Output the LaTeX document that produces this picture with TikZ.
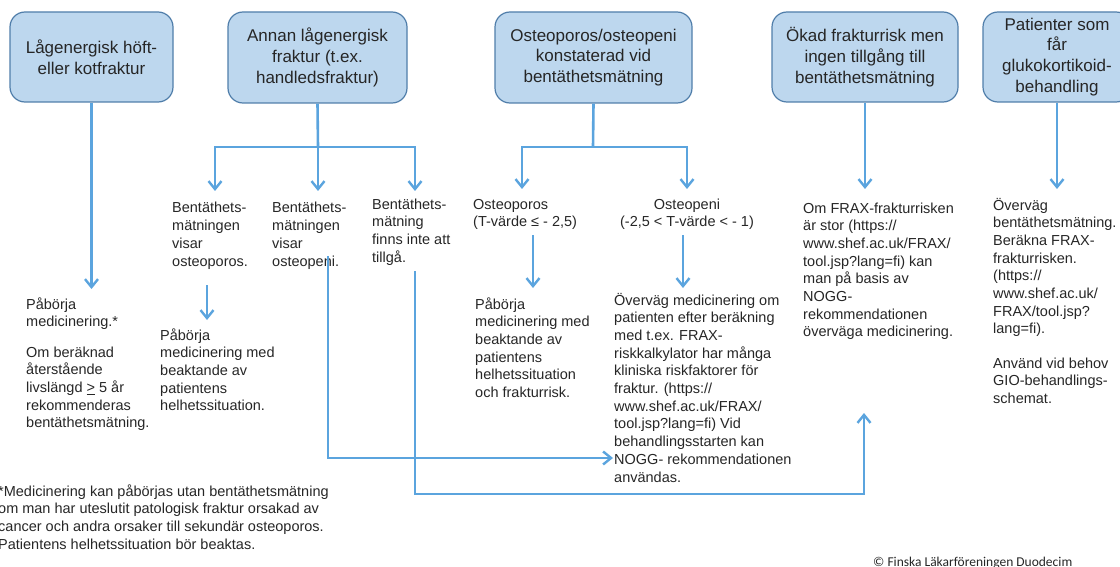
\documentclass[tikz,border=0pt]{standalone}
\usepackage{fontspec}
\setmainfont{Liberation Sans}
\newfontfamily\calib{Carlito}
\usetikzlibrary{arrows.meta}
\definecolor{boxfill}{RGB}{189,215,238}
\definecolor{boxline}{RGB}{80,126,170}
\definecolor{arrowc}{RGB}{91,164,222}
\definecolor{txt}{RGB}{38,38,38}
\begin{document}
\begin{tikzpicture}[x=1pt,y=-1pt,
 topbox/.style={draw=boxline, fill=boxfill, line width=1.2pt, rounded corners=15pt, text=txt, align=center, font=\fontsize{17}{20.8}\selectfont, inner sep=0pt},
 body/.style={text=txt, align=left, font=\fontsize{14.5}{17.7}\selectfont, inner sep=0pt, anchor=base west},
 conn/.style={draw=arrowc, line width=2.6pt},
 arr/.style={conn, -{Straight Barb[length=8pt,width=13pt,line width=2.4pt]}}
]
\useasboundingbox (0,0) rectangle (1120,567);
% top boxes
\node[topbox, minimum width=163pt, minimum height=90pt] (b1) at (91.5,57) {Lågenergisk höft-\\eller kotfraktur};
\node[topbox, minimum width=179pt, minimum height=91pt] (b2) at (317.5,57.5) {Annan lågenergisk\\fraktur (t.ex.\\handledsfraktur)};
\node[topbox, minimum width=197pt, minimum height=91pt] (b3) at (593.5,57.5) {Osteoporos/osteopeni\\konstaterad vid\\bentäthetsmätning};
\node[topbox, minimum width=186pt, minimum height=90pt] (b4) at (865,57) {Ökad frakturrisk men\\ingen tillgång till\\bentäthetsmätning};
\node[topbox, minimum width=148pt, minimum height=90pt] (b5) at (1057,57) {Patienter som\\får\\glukokortikoid-\\behandling};
% texts (anchored at the baseline of their last line)
\node[body] (a1) at (26,326.7) {Påbörja\\medicinering.*};
\node[body] (a2) at (26,427.8) {Om beräknad\\återstående\\livslängd \underline{>} 5 år\\rekommenderas\\bentäthetsmätning.};
\node[body] (c1) at (172,266.1) {Bentäthets-\\mätningen\\visar\\osteoporos.};
\node[body] (c2) at (272,266.1) {Bentäthets-\\mätningen\\visar\\osteopeni.};
\node[body] (c3) at (372,262.1) {Bentäthets-\\mätning\\finns inte att\\tillgå.};
\node[body] (c4) at (160,410.8) {Påbörja\\medicinering med\\beaktande av\\patientens\\helhetssituation.};
\node[body] (d1) at (473,226.7) {Osteoporos\\(T-värde ≤ - 2,5)};
\node[body, align=center, anchor=base] (d2) at (687,226.7) {Osteopeni\\(-2,5 < T-värde < - 1)};
\node[body] (d3) at (475,397.5) {Påbörja\\medicinering med\\beaktande av\\patientens\\helhetssituation\\och frakturrisk.};
\node[body] (d4) at (614,482) {Överväg medicinering om\\patienten efter beräkning\\med t.ex. FRAX-\\riskkalkylator har många\\kliniska riskfaktorer för\\fraktur. (https://\\www.shef.ac.uk/FRAX/\\tool.jsp?lang=fi) Vid\\behandlingsstarten kan\\NOGG- rekommendationen\\användas.};
\node[body] (e1) at (803,336.9) {Om FRAX-frakturrisken\\är stor (https://\\www.shef.ac.uk/FRAX/\\tool.jsp?lang=fi) kan\\man på basis av\\NOGG-\\rekommendationen\\överväga medicinering.};
\node[body] (f1) at (993,333.9) {Överväg\\bentäthetsmätning.\\Beräkna FRAX-\\frakturrisken.\\(https://\\www.shef.ac.uk/\\FRAX/tool.jsp?\\lang=fi).};
\node[body] (f2) at (993,403.4) {Använd vid behov\\GIO-behandlings-\\schemat.};
\node[body] (fn) at (-2,549.1) {*Medicinering kan påbörjas utan bentäthetsmätning\\om man har uteslutit patologisk fraktur orsakad av\\cancer och andra orsaker till sekundär osteoporos.\\Patientens helhetssituation bör beaktas.};
\node[text=txt, font=\calib\fontsize{13.5}{16}\selectfont, anchor=base west, inner sep=0pt] (cr) at (873,566) {© Finska Läkarföreningen Duodecim};
% coordinates
\coordinate (j2) at (318,147);
\coordinate (j3) at (593,147);
\coordinate (t1) at (91.5,289);
\coordinate (t2a) at (215,191);
\coordinate (t2b) at (318,191);
\coordinate (t2c) at (415,191);
\coordinate (t3a) at (522,189);
\coordinate (t3b) at (687,189);
\coordinate (t4) at (865,189);
\coordinate (t5) at (1057,189);
\coordinate (s4) at (207,285);
\coordinate (t6) at (207,320);
\coordinate (s5) at (533,235);
\coordinate (t7) at (533,288);
\coordinate (s6) at (683,235);
\coordinate (t8) at (683,288);
\coordinate (s1) at (328,256);
\coordinate (t9) at (613,458);
\coordinate (s2) at (415,271);
\coordinate (c2c) at (864,494);
\coordinate (t10) at (864,413);
% connectors
\draw[arr] (b1.south) -- (t1);
\draw[conn] (b2.south) -- (j2);
\draw[arr] (j2) -| (t2a);
\draw[arr] (j2) -- (t2b);
\draw[arr] (j2) -| (t2c);
\draw[conn] (b3.south) -- (j3);
\draw[arr] (j3) -| (t3a);
\draw[arr] (j3) -| (t3b);
\draw[arr] (b4.south) -- (t4);
\draw[arr] (b5.south) -- (t5);
\draw[arr] (s4) -- (t6);
\draw[arr] (s5) -- (t7);
\draw[arr] (s6) -- (t8);
\draw[arr] (s1) |- (t9);
\draw[arr] (s2) |- (c2c) -- (t10);
\end{tikzpicture}
\end{document}
